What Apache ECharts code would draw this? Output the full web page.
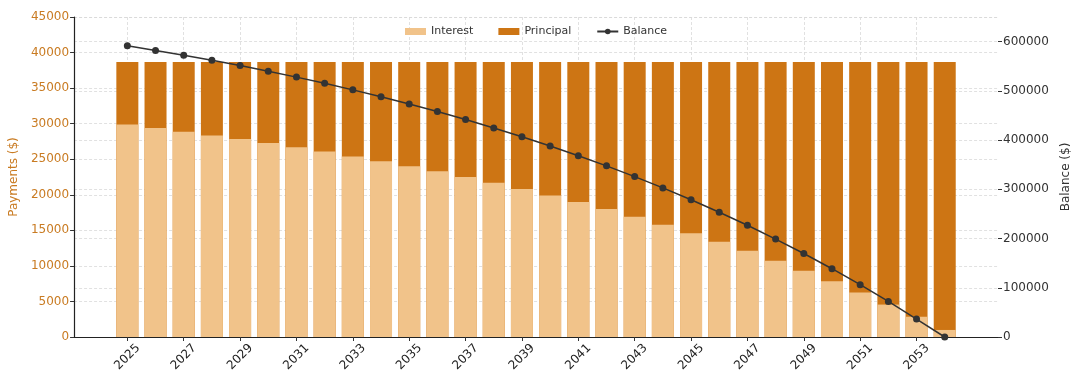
<!DOCTYPE html>
<html>
<head>
<meta charset="utf-8">
<script src="https://cdn.jsdelivr.net/npm/echarts@6/dist/echarts.min.js"></script>
<style>html,body{margin:0;padding:0;background:#fff}#c{width:1080px;height:385px}</style>
</head>
<body>
<div id="c"></div>
<script>
const years = [2025,2026,2027,2028,2029,2030,2031,2032,2033,2034,2035,2036,2037,2038,2039,2040,2041,2042,2043,2044,2045,2046,2047,2048,2049,2050,2051,2052,2053,2054];
const interest = [29900,29400,28850,28350,27830,27280,26700,26100,25400,24700,24000,23300,22500,21700,20800,19900,19000,18000,16900,15800,14600,13400,12130,10730,9320,7830,6250,4560,2850,990];
const principal = [8780,9280,9830,10330,10850,11400,11980,12580,13280,13980,14680,15380,16180,16980,17880,18780,19680,20680,21780,22880,24080,25280,26550,27950,29360,30850,32430,34120,35830,37690];
const balance = [591500,582000,572500,562200,551300,539900,527900,515300,502000,488000,473300,457900,441700,424700,406800,388000,368300,347600,325800,302900,278800,253500,226900,198900,169600,138700,106300,72200,36400,0];
const xTicks = [2025,2027,2029,2031,2033,2035,2037,2039,2041,2043,2045,2047,2049,2051,2053];
const leftColor = '#C97B22';
const font = 'DejaVu Sans';

// top of each stacked bar = interest + principal (principal drawn behind interest)
const stackTop = years.map((y,i)=>[y, interest[i] + principal[i]]);

const chart = echarts.init(document.getElementById('c'), null, {renderer:'canvas'});
const dash = {color:'#d9d9d9', type:[3,2], width:0.8};
chart.setOption({
  animation:false,
  textStyle:{fontFamily:font},
  grid:{left:73, right:82, top:17, bottom:48},
  legend:{
    top:21, left:400,
    itemWidth:21, itemHeight:7, itemGap:25,
    textStyle:{fontFamily:font, fontSize:11, color:'#333'},
    data:[{name:'Interest', icon:'rect'},{name:'Principal', icon:'rect'},{name:'Balance'}]
  },
  xAxis:{
    type:'value', min:2023.11, max:2055.89,
    axisLine:{show:true, lineStyle:{color:'#222', width:1.2}},
    axisTick:{show:true, customValues:xTicks, length:4, lineStyle:{color:'#333'}},
    axisLabel:{customValues:xTicks, rotate:45, align:'center', verticalAlign:'middle', fontSize:12, color:'#222', fontFamily:font, margin:20, formatter:v=>String(v)},
    splitLine:{show:true, lineStyle:dash}
  },
  yAxis:[{
    type:'value', min:0, max:45000, interval:5000,
    name:'Payments ($)', nameLocation:'middle', nameRotate:90, nameGap:48,
    nameTextStyle:{color:leftColor, fontSize:12, fontFamily:font},
    axisLine:{show:true, lineStyle:{color:'#222', width:1.2}},
    axisTick:{show:true, length:4, lineStyle:{color:'#333'}},
    axisLabel:{color:leftColor, fontSize:12, fontFamily:font, margin:5, formatter:v=>String(v)},
    splitLine:{show:true, lineStyle:dash}
  },{
    type:'value', min:0, max:650000, interval:100000, position:'right',
    name:'Balance ($)', nameLocation:'middle', nameRotate:90, nameGap:56,
    nameTextStyle:{color:'#333', fontSize:12, fontFamily:font},
    axisLine:{show:false},
    axisTick:{show:true, length:4, lineStyle:{color:'#333'}},
    axisLabel:{color:'#333', fontSize:12, fontFamily:font, margin:5, showMaxLabel:false, formatter:v=>String(v)},
    splitLine:{show:true, lineStyle:dash}
  }],
  series:[{
    name:'Principal', type:'bar', barWidth:22, barGap:'-100%',
    itemStyle:{color:'#CD7514'},
    data:stackTop
  },{
    name:'Interest', type:'bar', barWidth:22, barGap:'-100%',
    itemStyle:{color:'#F1C38A'},
    data:years.map((y,i)=>[y, interest[i]])
  },{
    name:'Balance', type:'line', yAxisIndex:1, z:5,
    symbol:'circle', symbolSize:7,
    lineStyle:{color:'#333', width:1.5},
    itemStyle:{color:'#333'},
    data:years.map((y,i)=>[y, balance[i]])
  }]
});
</script>
</body>
</html>
